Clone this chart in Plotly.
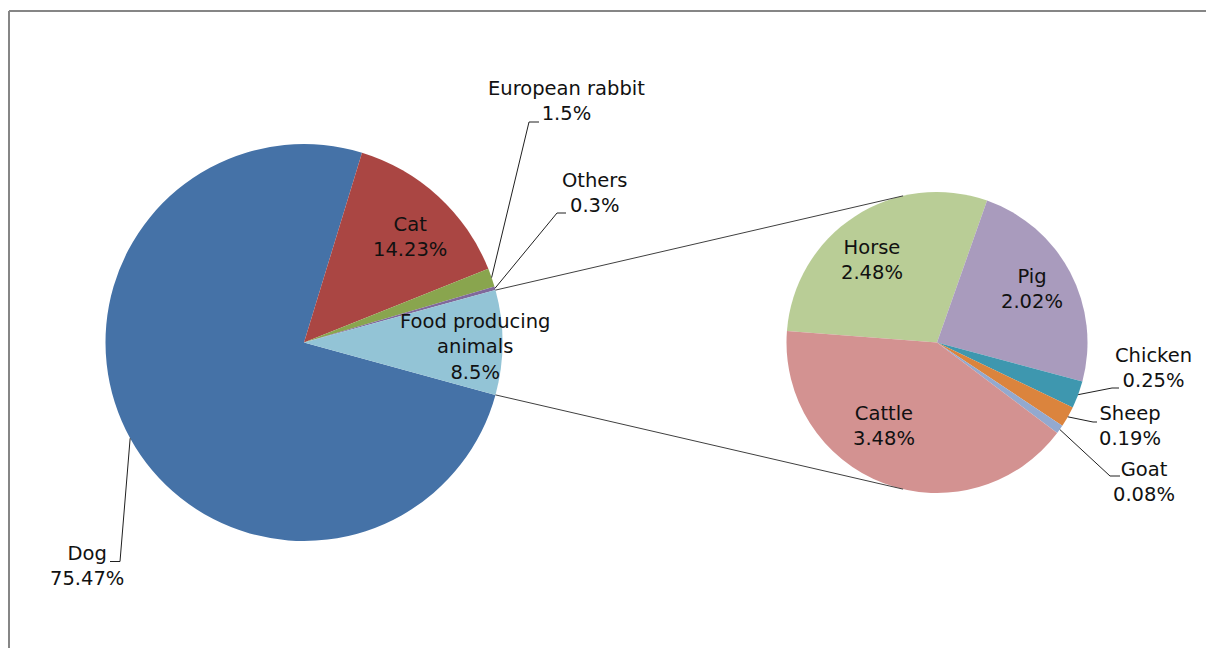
import math
import plotly.graph_objects as go

W, H = 1206, 648

# Main breakdown (percent of all cases)
main_labels = ["Dog", "Cat", "European rabbit", "Others", "Food producing animals"]
main_values = [75.47, 14.23, 1.5, 0.3, 8.5]
main_colors = ["#4572A7", "#AA4643", "#89A54E", "#80699B", "#93C4D6"]

# Split of the "Food producing animals" share
food_labels = ["Horse", "Pig", "Chicken", "Sheep", "Goat", "Cattle"]
food_values = [2.48, 2.02, 0.25, 0.19, 0.08, 3.48]
food_colors = ["#B9CD96", "#A99BBD", "#3E97AF", "#DB843D", "#93A9CF", "#D39291"]

FONT = "DejaVu Sans"
FONT_SIZE = 19.5
TEXT_COLOR = "#111111"

# Pie placement in pixels: centre and radius
MAIN_CX, MAIN_CY, MAIN_R = 304.0, 342.5, 198.5
FOOD_CX, FOOD_CY, FOOD_R = 937.0, 342.5, 150.5

main_total = sum(main_values)
food_total = sum(food_values)
# food slice centred on 3 o'clock; slices run clockwise from Dog
main_rotation = 90 + main_values[-1] / main_total * 180
food_rotation = -85.6


def px(x):
    return x / W


def py(y):
    return 1 - y / H


def domain(cx, cy, r):
    return dict(x=[px(cx - r), px(cx + r)], y=[py(cy + r), py(cy - r)])


def mid_angles(values, rotation):
    total = sum(values)
    out, a = [], rotation
    for v in values:
        span = v / total * 360
        out.append(a + span / 2)
        a += span
    return out


def edge_point(cx, cy, r, ang):
    t = math.radians(ang)
    return cx + r * math.sin(t), cy - r * math.cos(t)


fig = go.Figure()
fig.add_trace(go.Pie(
    labels=main_labels, values=main_values, sort=False, direction="clockwise",
    rotation=main_rotation, marker=dict(colors=main_colors, line=dict(width=0)),
    textinfo="none", hoverinfo="label+percent", domain=domain(MAIN_CX, MAIN_CY, MAIN_R),
    showlegend=False,
))
fig.add_trace(go.Pie(
    labels=food_labels, values=food_values, sort=False, direction="clockwise",
    rotation=food_rotation, marker=dict(colors=food_colors, line=dict(width=0)),
    textinfo="none", hoverinfo="label+value", domain=domain(FOOD_CX, FOOD_CY, FOOD_R),
    showlegend=False,
))

shapes = []
annotations = []


def line(x0, y0, x1, y1, color="#303030", width=1):
    shapes.append(dict(type="line", xref="paper", yref="paper",
                       x0=px(x0), y0=py(y0), x1=px(x1), y1=py(y1),
                       line=dict(color=color, width=width)))


# Chart frame
line(9, 11, W + 5, 11, color="#868686", width=2)
line(9, 11, 9, H + 5, color="#868686", width=2)

# Label centres and leader elbows / ends (pixels)
main_label_pos = {
    "Dog": (87, 566), "Cat": (410, 237), "European rabbit": (566, 101),
    "Others": (595, 193), "Food producing animals": (475, 347),
}
food_label_pos = {
    "Horse": (872, 260), "Pig": (1032, 289), "Chicken": (1153, 368),
    "Sheep": (1130, 426), "Goat": (1144, 482), "Cattle": (884, 426),
}
leaders = {
    "Dog": ((120, 561.5), (110, 561.5)),
    "European rabbit": ((529, 122), (539, 122)),
    "Others": ((557, 213), (566, 213)),
    "Chicken": ((1112, 388), (1119, 388)),
    "Sheep": ((1093, 422), (1097, 422)),
    "Goat": ((1110, 476), (1120, 476)),
}


def add_labels(labels, values, rotation, cx, cy, r, positions):
    for name, val, ang in zip(labels, values, mid_angles(values, rotation)):
        tx, ty = positions[name]
        shown = name.replace("producing ", "producing<br>")
        annotations.append(dict(
            text=f"{shown}<br>{val:g}%", x=px(tx), y=py(ty), xref="paper", yref="paper",
            xanchor="center", yanchor="middle", showarrow=False, align="center",
            font=dict(family=FONT, size=FONT_SIZE, color=TEXT_COLOR),
        ))
        if name in leaders:
            sx, sy = edge_point(cx, cy, r, ang)
            (ex, ey), (fx, fy) = leaders[name]
            line(sx, sy, ex, ey, color="#202020")
            line(ex, ey, fx, fy, color="#202020")


add_labels(main_labels, main_values, main_rotation, MAIN_CX, MAIN_CY, MAIN_R, main_label_pos)
add_labels(food_labels, food_values, food_rotation, FOOD_CX, FOOD_CY, FOOD_R, food_label_pos)

# Connector lines: from the food slice edges, tangent to the second pie
half = main_values[-1] / main_total * 180
for sign in (-1, 1):
    sx, sy = edge_point(MAIN_CX, MAIN_CY, MAIN_R, 90 + sign * half)
    dx, dy = FOOD_CX - sx, FOOD_CY - sy
    d = math.hypot(dx, dy)
    base = math.atan2(dy, dx)
    off = math.asin(FOOD_R / d)
    L = math.sqrt(d * d - FOOD_R * FOOD_R)
    a = base + sign * off
    line(sx, sy, sx + L * math.cos(a), sy + L * math.sin(a), color="#404040")

fig.update_layout(
    width=W, height=H, margin=dict(l=0, r=0, t=0, b=0),
    paper_bgcolor="white", plot_bgcolor="white",
    shapes=shapes, annotations=annotations,
)

fig.write_html("out.html", config={"displayModeBar": False})
